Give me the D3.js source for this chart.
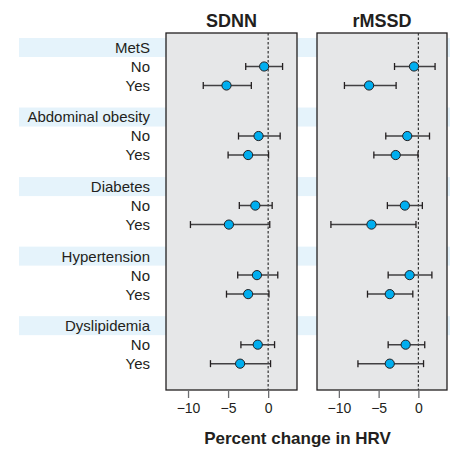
<!DOCTYPE html>
<html lang="en">
<head>
<meta charset="UTF-8" />
<title>HRV forest plot</title>
<style>
  body { margin: 0; background: #fff; }
  text { font-family: "Liberation Sans Narrow", "Arial Narrow", "Liberation Sans", sans-serif; }
</style>
</head>
<body>
<script src="https://cdn.jsdelivr.net/npm/d3@7"></script>
<div id="app"></div>
<script>
// data
const groups = ["MetS", "Abdominal obesity", "Diabetes", "Hypertension", "Dyslipidemia"];
const levels = ["No", "Yes"];
const panels = ["SDNN", "rMSSD"];
// estimate, lower, upper per group: [No, Yes]
const sdnnEst   = [[-0.5, -5.2], [-1.2, -2.5], [-1.6, -4.9], [-1.4, -2.5], [-1.3, -3.5]];
const sdnnLow   = [[-2.8, -8.1], [-3.7, -5.0], [-3.6, -9.7], [-3.8, -5.2], [-3.4, -7.2]];
const sdnnHigh  = [[ 1.8, -2.1], [ 1.5,  0.05], [ 0.5,  0.2], [ 1.2,  0.1], [ 0.8,  0.3]];
const rmssdEst  = [[-0.55, -6.2], [-1.4, -2.85], [-1.7, -5.9], [-1.1, -3.6], [-1.6, -3.6]];
const rmssdLow  = [[-3.0, -9.3], [-4.1, -5.6], [-3.9, -11.0], [-3.8, -6.4], [-3.8, -7.6]];
const rmssdHigh = [[ 2.1, -2.8], [ 1.4, -0.05], [ 0.5, -0.3], [ 1.7, -0.7], [ 0.8,  0.65]];
const xTicks = [-10, -5, 0];
const xDomain = [-12.75, 3.6];

const W = 450, H = 451;
const svg = d3.select("#app").append("svg")
  .attr("width", W).attr("height", H);

// layout
const plotTop = 33, plotBottom = 390;
const panelX = [[166, 297], [317, 447]];
const labelRight = 150;

// rows: slot = group*3.66 + r  (r=0 header, 1 No, 2 Yes)
const y = d3.scaleLinear().domain([0, 1]).range([47.5, 66.5]);
const slot = (g, r) => g * 3.66 + r;

// header bands
svg.selectAll("rect.band")
  .data(groups)
  .enter().append("rect")
  .attr("class", "band")
  .attr("x", 19).attr("width", W - 19)
  .attr("y", (d, i) => y(slot(i, 0)) - 9.5)
  .attr("height", 19)
  .attr("fill", "#e5f3fb");

// row labels
const lab = svg.append("g");
groups.forEach((g, i) => {
  lab.append("text").attr("x", labelRight).attr("y", y(slot(i, 0)))
    .attr("dy", "0.36em").attr("text-anchor", "end")
    .attr("font-size", 15).attr("fill", "#231f20").text(g);
  levels.forEach((l, j) => {
    lab.append("text").attr("x", labelRight).attr("y", y(slot(i, j + 1)))
      .attr("dy", "0.36em").attr("text-anchor", "end")
      .attr("font-size", 15).attr("fill", "#231f20").text(l);
  });
});

const series = [
  { est: sdnnEst, low: sdnnLow, high: sdnnHigh },
  { est: rmssdEst, low: rmssdLow, high: rmssdHigh }
];

panels.forEach((name, p) => {
  const x = d3.scaleLinear().domain(xDomain).range(panelX[p]);
  const g = svg.append("g");

  g.append("rect")
    .attr("x", panelX[p][0]).attr("y", plotTop)
    .attr("width", panelX[p][1] - panelX[p][0]).attr("height", plotBottom - plotTop)
    .attr("fill", "#e6e7e8").attr("stroke", "#231f20").attr("stroke-width", 1.3);

  g.append("text")
    .attr("x", (panelX[p][0] + panelX[p][1]) / 2).attr("y", 27)
    .attr("text-anchor", "middle").attr("font-size", 18).attr("font-weight", "bold")
    .attr("fill", "#231f20").text(name);

  // zero reference
  g.append("line")
    .attr("x1", x(0)).attr("x2", x(0)).attr("y1", plotTop).attr("y2", plotBottom)
    .attr("stroke", "#333").attr("stroke-width", 1.2).attr("stroke-dasharray", "2.5,2");

  // axis
  const ax = g.append("g").attr("transform", `translate(0,${plotBottom})`)
    .call(d3.axisBottom(x).tickValues(xTicks).tickSize(8).tickPadding(5));
  ax.select(".domain").remove();
  ax.selectAll(".tick line").attr("stroke", "#6d6e71").attr("stroke-width", 1.3);
  ax.selectAll(".tick text").attr("font-size", 14).attr("fill", "#231f20")
    .attr("font-family", "'Liberation Sans Narrow', sans-serif");

  // points
  const s = series[p];
  const pts = [];
  groups.forEach((gr, i) => levels.forEach((l, j) => {
    pts.push({ y: y(slot(i, j + 1)), est: s.est[i][j], low: s.low[i][j], high: s.high[i][j] });
  }));

  const bars = g.selectAll("g.pt").data(pts).enter().append("g").attr("class", "pt");
  bars.append("line")
    .attr("x1", d => x(d.low)).attr("x2", d => x(d.high))
    .attr("y1", d => d.y).attr("y2", d => d.y)
    .attr("stroke", "#414042").attr("stroke-width", 1.5);
  bars.append("line")
    .attr("x1", d => x(d.low)).attr("x2", d => x(d.low))
    .attr("y1", d => d.y - 3.5).attr("y2", d => d.y + 3.5)
    .attr("stroke", "#231f20").attr("stroke-width", 1.3);
  bars.append("line")
    .attr("x1", d => x(d.high)).attr("x2", d => x(d.high))
    .attr("y1", d => d.y - 3.5).attr("y2", d => d.y + 3.5)
    .attr("stroke", "#231f20").attr("stroke-width", 1.3);
  bars.append("circle")
    .attr("cx", d => x(d.est)).attr("cy", d => d.y).attr("r", 4.6)
    .attr("fill", "#00aeef").attr("stroke", "#231f20").attr("stroke-width", 1);
});

// axis title
svg.append("text")
  .attr("x", 297.5).attr("y", 444)
  .attr("text-anchor", "middle").attr("font-size", 17).attr("font-weight", "bold")
  .attr("fill", "#231f20").text("Percent change in HRV");
</script>
</body>
</html>
